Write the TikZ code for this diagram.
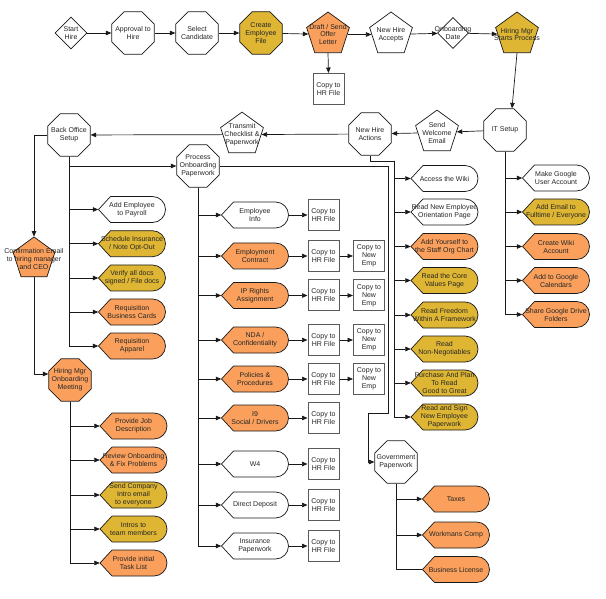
\documentclass[tikz,border=0pt]{standalone}
\usepackage{fontspec}
\setmainfont{Liberation Sans}
\usetikzlibrary{shapes.geometric,arrows.meta}
\definecolor{org}{RGB}{250,160,92}
\definecolor{gld}{RGB}{222,182,52}
\definecolor{lnc}{RGB}{25,25,25}
\tikzset{
  base/.style={draw=lnc, line width=0.7pt, inner sep=0pt},
  lbl/.style={font=\fontsize{7}{8}\selectfont, align=center, inner sep=0pt, text=black!85},
  oct/.style={base, regular polygon, regular polygon sides=8, minimum size=46pt},
  pent/.style={base, regular polygon, regular polygon sides=5, minimum size=45pt},
  dmd/.style={base, diamond, minimum width=32pt, minimum height=32pt},
  copybox/.style={draw=black!65, line width=1pt, fill=white, minimum width=31pt, minimum height=31pt, inner sep=0pt, font=\fontsize{7}{8}\selectfont, align=center, text=black!85},
  dispbox/.style={minimum width=67pt, minimum height=26pt, inner sep=0pt, font=\fontsize{7}{8}\selectfont, align=center, text=black!85},
  dispshape/.style={draw=lnc, line width=0.7pt},
  ln/.style={draw=lnc, line width=0.7pt},
  arr/.style={draw=lnc, line width=0.7pt, -{Triangle[length=5.5pt,width=4.5pt]}}
}
\newcommand\dispnode[4]{%
  \begin{scope}[shift={(#2)}]
    \draw[dispshape, fill=#3] (-33.5,0) -- (-21.5,-13) -- (20.5,-13) arc[start angle=-90, end angle=90, radius=13] -- (-21.5,13) -- cycle;
  \end{scope}
  \node[dispbox] (#1) at (#2) {#4};
}
\begin{document}
\begin{tikzpicture}[x=1pt,y=-1pt]
\useasboundingbox (0,0) rectangle (606,599);
% ---------- top row ----------
\node[dmd, fill=white, label={[lbl]center:{Start\\Hire}}] (start) at (71,33) {};
\node[oct, fill=white, label={[lbl]center:{Approval to\\Hire}}] (appr) at (133,33) {};
\node[oct, fill=white, label={[lbl]center:{Select\\Candidate}}] (sel) at (197,33) {};
\node[oct, fill=gld, label={[lbl]center:{Create\\Employee\\File}}] (create) at (261,33) {};
\node[pent, fill=org, label={[lbl]center:{Draft / Send\\Offer\\Letter}}] (draft) at (328,34.5) {};
\node[copybox] (copy0) at (328.5,89) {Copy to\\HR File};
\node[pent, fill=white, label={[lbl]center:{New Hire\\Accepts}}] (accepts) at (391,34.5) {};
\node[dmd, fill=white, minimum width=31pt, minimum height=31pt, label={[lbl]center:{Onboarding\\Date}}] (obdate) at (453,33) {};
\node[pent, fill=gld, label={[lbl]center:{Hiring Mgr\\Starts Process}}] (hmgr) at (517,34.5) {};
\draw[arr] (start) -- (appr);
\draw[arr] (appr) -- (sel);
\draw[arr] (sel) -- (create);
\draw[arr] (create) -- (draft);
\draw[arr] (draft) -- (accepts);
\draw[arr] (accepts) -- (obdate);
\draw[arr] (obdate) -- (hmgr);
\draw[arr] (draft.south) -- (copy0.north);
% ---------- second row ----------
\node[oct, fill=white, label={[lbl]center:{IT Setup}}] (it) at (505,130) {};
\node[pent, fill=white, label={[lbl]center:{Send\\Welcome\\Email}}] (welcome) at (437,132.6) {};
\node[oct, fill=white, label={[lbl]center:{New Hire\\Actions}}] (nha) at (370,134) {};
\node[pent, fill=white, label={[lbl]center:{Transmit\\Checklist \&\\Paperwork}}] (transmit) at (242,134.6) {};
\node[oct, fill=white, label={[lbl]center:{Back Office\\Setup}}] (back) at (69,135) {};
\node[oct, fill=white, label={[lbl]center:{Process\\Onboarding\\Paperwork}}] (proc) at (198,166) {};
\node[pent, fill=org, minimum size=44pt, label={[lbl]center:{Confirmation Email\\to hiring manager\\and CEO}}] (conf) at (34,259) {};
\node[oct, fill=org, label={[lbl]center:{Hiring Mgr\\Onboarding\\Meeting}}] (hmeet) at (70,380) {};
\node[oct, fill=white, label={[lbl]center:{Government\\Paperwork}}] (gov) at (396,462) {};
\draw[arr] (hmgr.south) -- ([xshift=7pt]it.north);
\draw[arr] (it) -- (welcome);
\draw[arr] (welcome) -- (nha);
\draw[arr] (nha) -- (transmit);
\draw[arr] (transmit) -- (back);
\draw[arr] (back.west) -| (conf.north);
\draw[arr] (conf.south) |- ([yshift=6pt]hmeet.west);
% ---------- back office children ----------
\dispnode{payroll}{132,209.5}{white}{Add Employee\\to Payroll}
\dispnode{sched}{132,243.7}{gld}{Schedule Insurance\\/ Note Opt-Out}
\dispnode{verify}{132,278}{gld}{Verify all docs\\signed / File docs}
\dispnode{bcards}{132,312}{org}{Requisition\\Business Cards}
\dispnode{apparel}{132,346}{org}{Requisition\\Apparel}
\draw[arr] (back.south) |- (proc.west);
\foreach \n in {payroll,sched,verify,bcards,apparel}{\draw[arr] (back.south) |- (\n.west);}
% ---------- hiring meeting children ----------
\dispnode{job}{133.5,426}{org}{Provide Job\\Description}
\dispnode{review}{133.5,460}{org}{Review Onboarding\\\& Fix Problems}
\dispnode{intro}{133.5,495}{gld}{Send Company\\Intro email\\to everyone}
\dispnode{team}{133.5,529}{gld}{Intros to\\team members}
\dispnode{task}{133.5,563}{org}{Provide initial\\Task List}
\foreach \n in {job,review,intro,team,task}{\draw[arr] (hmeet.south) |- (\n.west);}
% ---------- process onboarding children ----------
\dispnode{einfo}{255,215}{white}{Employee\\Info}
\dispnode{econ}{255,256}{org}{Employment\\Contract}
\dispnode{iprt}{255,295.5}{org}{IP Rights\\Assignment}
\dispnode{nda}{255,340}{org}{NDA /\\Confidentiality}
\dispnode{pol}{255,379}{org}{Policies \&\\Procedures}
\dispnode{ini}{255,418}{org}{I9\\Social / Drivers}
\dispnode{wfour}{255,464}{white}{W4}
\dispnode{dd}{255,505}{white}{Direct Deposit}
\dispnode{ins}{255,546}{white}{Insurance\\Paperwork}
\foreach \n in {einfo,econ,iprt,nda,pol,ini,wfour,dd,ins}{\draw[arr] (proc.south) |- (\n.west);}
\node[copybox] (hra) at (323.5,215) {Copy to\\HR File};
\node[copybox] (hrb) at (323.5,256) {Copy to\\HR File};
\node[copybox] (hrc) at (323.5,295.5) {Copy to\\HR File};
\node[copybox] (hrd) at (323.5,340) {Copy to\\HR File};
\node[copybox] (hre) at (323.5,379) {Copy to\\HR File};
\node[copybox] (hrf) at (323.5,418) {Copy to\\HR File};
\node[copybox] (hrg) at (323.5,464) {Copy to\\HR File};
\node[copybox] (hrh) at (323.5,505) {Copy to\\HR File};
\node[copybox] (hri) at (323.5,546) {Copy to\\HR File};
\node[copybox] (neb) at (369,256) {Copy to\\New\\Emp};
\node[copybox] (nec) at (369,295.5) {Copy to\\New\\Emp};
\node[copybox] (ned) at (369,340) {Copy to\\New\\Emp};
\node[copybox] (nee) at (369,379) {Copy to\\New\\Emp};
\draw[arr] (einfo.east) -- (hra.west);
\draw[arr] (econ.east) -- (hrb.west);
\draw[arr] (iprt.east) -- (hrc.west);
\draw[arr] (nda.east) -- (hrd.west);
\draw[arr] (pol.east) -- (hre.west);
\draw[arr] (ini.east) -- (hrf.west);
\draw[arr] (wfour.east) -- (hrg.west);
\draw[arr] (dd.east) -- (hrh.west);
\draw[arr] (ins.east) -- (hri.west);
\draw[arr] (hrb.east) -- (neb.west);
\draw[arr] (hrc.east) -- (nec.west);
\draw[arr] (hrd.east) -- (ned.west);
\draw[arr] (hre.east) -- (nee.west);
% path to government paperwork
\coordinate (g1) at (388,413);
\coordinate (g2) at (368,413);
\draw[arr] (proc.east) -| (g1) -- (g2) |- (gov.west);
% ---------- new hire actions children ----------
\dispnode{wiki}{444.5,178.5}{white}{Access the Wiki}
\dispnode{orient}{444.5,212}{white}{Read New Employee\\Orientation Page}
\dispnode{orgc}{444.5,246.5}{org}{Add Yourself to\\the Staff Org Chart}
\dispnode{core}{444.5,280.5}{gld}{Read the Core\\Values Page}
\dispnode{free}{444.5,315}{gld}{Read Freedom\\Within A Framework}
\dispnode{nonneg}{444.5,349}{gld}{Read\\Non-Negotiables}
\dispnode{gtg}{444.5,383}{gld}{Purchase And Plan\\To Read\\Good to Great}
\dispnode{sign}{444.5,417}{gld}{Read and Sign\\New Employee\\Paperwork}
\coordinate (n1) at (394,161);
\draw[ln] (nha.south) |- (n1);
\foreach \n in {wiki,orient,orgc,core,free,nonneg,gtg,sign}{\draw[arr] (n1) |- (\n.west);}
% ---------- IT setup children ----------
\dispnode{guser}{556,178}{white}{Make Google\\User Account}
\dispnode{email}{556,212}{gld}{Add Email to\\Fulltime / Everyone}
\dispnode{wikiacc}{556,246.5}{org}{Create Wiki\\Account}
\dispnode{cal}{556,280.5}{org}{Add to Google\\Calendars}
\dispnode{drive}{556,314.5}{org}{Share Google Drive\\Folders}
\foreach \n in {guser,email,wikiacc,cal,drive}{\draw[arr] (it.south) |- (\n.west);}
% ---------- government children ----------
\dispnode{taxes}{456,499}{org}{Taxes}
\dispnode{wcomp}{456,535}{org}{Workmans Comp}
\dispnode{blic}{456,569.5}{org}{Business License}
\draw[arr] (gov.south) |- (taxes.west);
\draw[arr] (gov.south) |- (wcomp.west);
\draw[ln] (gov.south) |- (blic.west);
\end{tikzpicture}
\end{document}
